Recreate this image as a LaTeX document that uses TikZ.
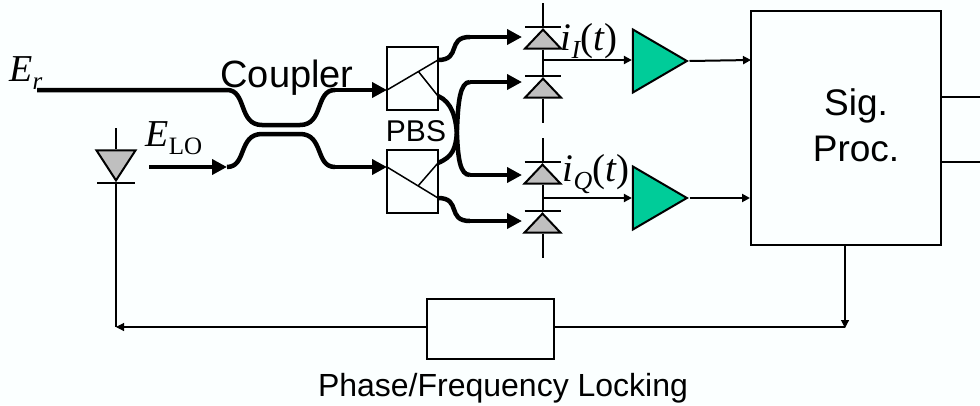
\documentclass[tikz,border=0pt]{standalone}
\usepackage{fontspec}
\setmainfont{Liberation Sans}
\newfontfamily\serfont{Liberation Serif}
\usetikzlibrary{shapes}
\usetikzlibrary{arrows.meta}
\definecolor{paper}{HTML}{FBFFFF}
\definecolor{ampgreen}{HTML}{00CC99}
\definecolor{pdgray}{HTML}{BFBFBF}
\newcommand{\symb}[2]{{\serfont\itshape\fontsize{38}{38}\selectfont #1\raisebox{-8pt}{\fontsize{25}{25}\selectfont #2}}}
\newcommand{\symbt}[2]{{\serfont\itshape\fontsize{39}{39}\selectfont #1\raisebox{-8pt}{\fontsize{26}{26}\selectfont #2}\upshape(\itshape t\upshape)}}
\tikzset{
	fiber/.style={line width=4.5pt},
	big tip/.style={-{Triangle[length=15pt,width=15pt]}},
	small tip/.style={-{Triangle[length=8pt,width=8pt]}},
	thin line/.style={line width=2pt},
	hair line/.style={line width=1.1pt},
	main box/.style={rectangle,draw,line width=2pt,inner sep=0pt},
	label/.style={inner sep=0pt,font=\fontsize{37}{46}\selectfont,align=center},
	diode up/.style={isosceles triangle,isosceles triangle stretches,draw,fill=pdgray,line width=2pt,
		inner sep=0pt,minimum width=36pt,minimum height=19pt,shape border rotate=90,anchor=apex},
	diode down/.style={diode up,minimum width=39pt,minimum height=30pt,shape border rotate=-90},
	amp/.style={isosceles triangle,isosceles triangle stretches,draw,fill=ampgreen,line width=2pt,
		inner sep=0pt,minimum width=63pt,minimum height=54pt,anchor=apex}
}
\begin{document}
\begin{tikzpicture}[x=1pt,y=-1pt]
	\fill [paper] (0,0) rectangle (980,405);
	\useasboundingbox (0,0) rectangle (980,405);

	\node [main box,minimum width=51pt,minimum height=63pt] (pbs1) at (412.5,78.5) {};
	\node [main box,minimum width=51pt,minimum height=63pt] (pbs2) at (412.5,181.5) {};
	\node [main box,line width=2.5pt,minimum width=190pt,minimum height=234pt] (sig) at (846,128) {};
	\node [main box,line width=1.1pt,minimum width=127pt,minimum height=60pt] (lock) at (490.5,329) {};

	\node [diode up] (pd1) at (543,27) {};
	\node [diode up] (pd2) at (543,76) {};
	\node [diode up] (pd3) at (542.5,162) {};
	\node [diode up] (pd4) at (542.5,211) {};
	\node [diode down] (pd5) at (116,183) {};
	\node [amp] (amp1) at (689.5,61) {};
	\node [amp] (amp2) at (689.5,198) {};

	\coordinate (r0) at (37,90);
	\coordinate (r1) at (227,90);
	\coordinate (r2) at (335,90);
	\coordinate (r3) at (387,90);
	\coordinate (l0) at (149,167);
	\coordinate (l1) at (227,167);
	\coordinate (l2) at (335,167);
	\coordinate (l3) at (387,167);
	\coordinate (u1) at (438,60);
	\coordinate (u2) at (438,96);
	\coordinate (v1) at (438,163);
	\coordinate (v2) at (438,198);
	\coordinate (m1) at (418,71);
	\coordinate (m2) at (418,186);
	\coordinate (f1) at (470,37);
	\coordinate (f2) at (470,82);
	\coordinate (f3) at (470,175);
	\coordinate (f4) at (470,221);
	\coordinate (t1) at (522,37);
	\coordinate (t2) at (522,82);
	\coordinate (t3) at (522,175);
	\coordinate (t4) at (522,221);
	\coordinate (n1) at (543,60);
	\coordinate (n2) at (543,198);
	\coordinate (s1) at (751,60);
	\coordinate (s2) at (750,198);
	\coordinate (o1) at (988,97);
	\coordinate (o2) at (988,162);
	\coordinate (e1) at (942,97);
	\coordinate (e2) at (942,162);
	\coordinate (b1) at (845,328);
	\coordinate (b2) at (116,327);
	\coordinate (c1) at (845,327);

	\draw [fiber] (r0) -- (r1) .. controls (247,90) and (238,125) .. (262,125) -- (300,125)
		.. controls (324,125) and (315,90) .. (r2);
	\draw [fiber,big tip] (r2) -- (r3);
	\draw [fiber,big tip] (l0) -- (l1);
	\draw [fiber] (l1) .. controls (247,167) and (238,134) .. (262,134) -- (300,134)
		.. controls (324,134) and (315,167) .. (l2);
	\draw [fiber,big tip] (l2) -- (l3);
	\draw [fiber] (u1) .. controls (462,60) and (446,37) .. (f1);
	\draw [fiber,big tip] (f1) -- (t1);
	\draw [fiber] (u2) .. controls (452,102) and (456,118) .. (457,135) .. controls (458,158) and (460,175) .. (f3);
	\draw [fiber,big tip] (f3) -- (t3);
	\draw [fiber] (v1) .. controls (452,157) and (456,150) .. (457,130) .. controls (458,102) and (460,82) .. (f2);
	\draw [fiber,big tip] (f2) -- (t2);
	\draw [fiber] (v2) .. controls (462,198) and (446,221) .. (f4);
	\draw [fiber,big tip] (f4) -- (t4);

	\draw [line width=1.5pt] (r3) -- (u1) (m1) -- (u2);
	\draw [line width=1.5pt] (l3) -- (v2) (m2) -- (v1);

	\coordinate (w1) at (543,3);
	\coordinate (w2) at (543,123);
	\coordinate (w3) at (542.5,138);
	\coordinate (w4) at (542.5,258);
	\coordinate (w5) at (116,128);
	\coordinate (w6) at (116,211);
	\draw [line width=2pt] (w1) -- (pd1.apex) (pd1.south) -- (pd2.apex) (pd2.south) -- (w2);
	\draw [line width=2pt] (w3) -- (pd3.apex) (pd3.south) -- (pd4.apex) (pd4.south) -- (w4);
	\draw [line width=2pt] (w5) -- (pd5.north) (pd5.apex) -- (w6);
	\draw [line width=2pt] ([xshift=-18pt]pd1.apex) -- ([xshift=18pt]pd1.apex);
	\draw [line width=2pt] ([xshift=-18pt]pd2.apex) -- ([xshift=18pt]pd2.apex);
	\draw [line width=2pt] ([xshift=-18pt]pd3.apex) -- ([xshift=18pt]pd3.apex);
	\draw [line width=2pt] ([xshift=-18pt]pd4.apex) -- ([xshift=18pt]pd4.apex);
	\draw [line width=2pt] ([xshift=-19pt]pd5.apex) -- ([xshift=19pt]pd5.apex);

	\draw [thin line,small tip] (n1) -- (amp1.west |- n1);
	\draw [thin line,small tip] (n2) -- (amp2.west |- n2);
	\draw [thin line,small tip] (amp1.apex) -- (s1);
	\draw [thin line,small tip] (amp2.apex) -- (s2);
	\draw [hair line,small tip] (e1) -- (o1);
	\draw [hair line,small tip] (e2) -- (o2);
	\draw [hair line,small tip] (sig.south -| b1) -- (b1);
	\draw [hair line] (c1) -- (lock.east |- c1);
	\draw [hair line,small tip] (lock.west |- b2) -- (b2);
	\draw [hair line] (b2) -- (w6);

	\node [label] (er) at (26,73) {\symb{E}{r}};
	\node [label] (elo) at (174,138) {\symb{E}{\upshape LO}};
	\node [label] (ii) at (589,41) {\symbt{i}{I}};
	\node [label] (iq) at (596,174) {\symbt{i}{Q}};
	\node [label,font=\fontsize{38}{46}\selectfont] (coupler) at (287,78) {Coupler};
	\node [label,font=\fontsize{30}{36}\selectfont] (pbs) at (416,131) {PBS};
	\node [label] (proc) at (856,125) {Sig.\\Proc.};
	\node [label,font=\fontsize{32}{38}\selectfont] (locking) at (503,388) {Phase/Frequency Locking};
\end{tikzpicture}
\end{document}
